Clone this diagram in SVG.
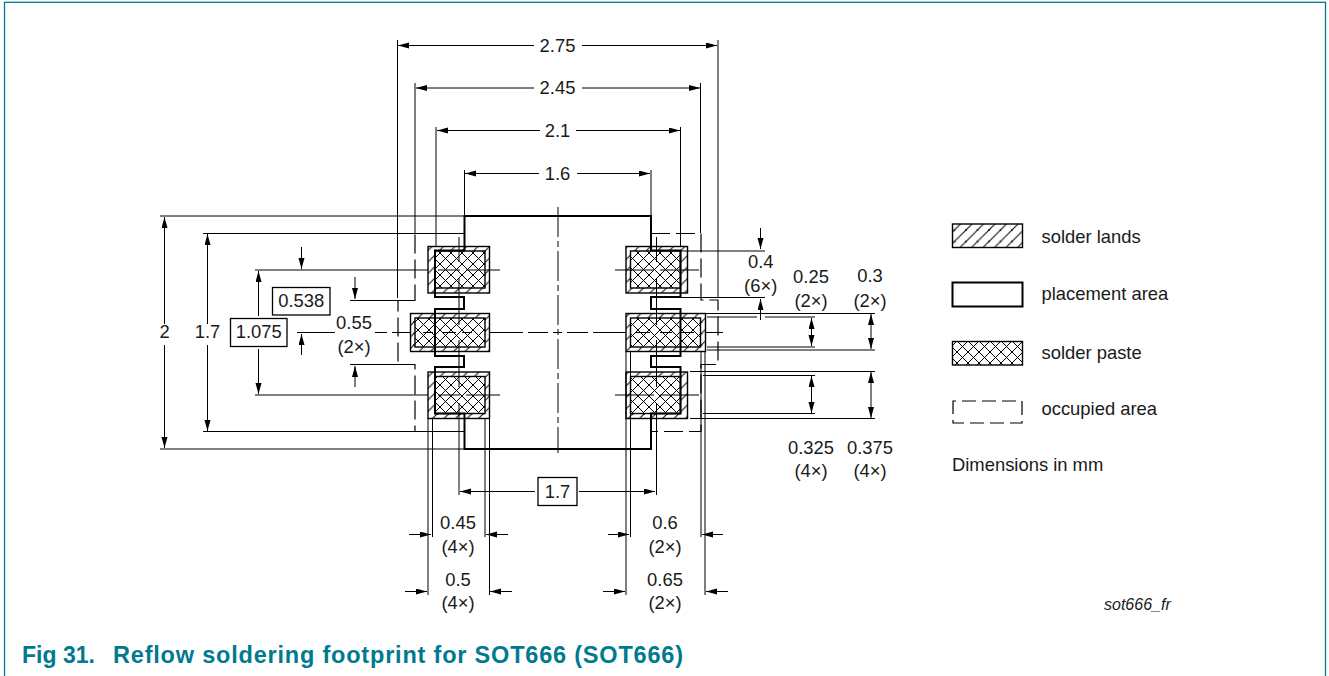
<svg xmlns="http://www.w3.org/2000/svg" width="1329" height="676" viewBox="0 0 1329 676">
<style>
text{font-family:"Liberation Sans",Arial,sans-serif;font-size:18.4px;fill:#1a1a1a}
.m{text-anchor:middle}
.l{stroke:#000;stroke-width:1;fill:none}
.e{stroke:#000;stroke-width:1;fill:none;marker-end:url(#ae)}
.box{fill:#fff;stroke:#000;stroke-width:1.3}
.land{fill:url(#h);stroke:#000;stroke-width:1.4}
.paste{fill:url(#x);stroke:#000;stroke-width:1.4}
.place{fill:none;stroke:#000;stroke-width:2}
.occ{fill:none;stroke:#000;stroke-width:1.2;stroke-dasharray:19 6}
.c{stroke:#000;stroke-width:1;stroke-dasharray:30 4 6 4;fill:none}
</style>
<defs>
<marker id="ae" markerUnits="userSpaceOnUse" markerWidth="14" markerHeight="8" refX="11" refY="3" orient="auto"><path d="M0 0L11 3L0 6Z" fill="#000"/></marker>
<pattern id="h" patternUnits="userSpaceOnUse" width="11.5" height="11.5"><rect width="11.5" height="11.5" fill="#fff"/><path d="M-1 12.500L12.500 -1M-1 1.500L1.500 -1M10 12.500L12.500 10" stroke="#000" stroke-width="1" fill="none"/></pattern>
<pattern id="x" patternUnits="userSpaceOnUse" width="11" height="11"><rect width="11" height="11" fill="#fff"/><path d="M0 0L11 11M11 0L0 11" stroke="#000" stroke-width="1" fill="none"/></pattern>
</defs>
<rect id="frame" x="4.500" y="2.300" width="1321" height="690" fill="none" stroke="#007a8f" stroke-width="1.300"/>
<g id="lands">
<rect class="land" x="428" y="246.500" width="61.500" height="46.500"/>
<rect class="land" x="410.500" y="313.500" width="79" height="38"/>
<rect class="land" x="428" y="372" width="61.500" height="46.500"/>
<rect class="land" x="626" y="246.500" width="61.500" height="46.500"/>
<rect class="land" x="626" y="313.500" width="79.500" height="38"/>
<rect class="land" x="626" y="372" width="61.500" height="46.500"/>
</g>
<g id="pastes">
<rect class="paste" x="435" y="251" width="50" height="37"/>
<rect class="paste" x="415" y="318" width="70" height="29"/>
<rect class="paste" x="435" y="376.500" width="50" height="37"/>
<rect class="paste" x="630.500" y="251" width="50" height="37"/>
<rect class="paste" x="630.500" y="318" width="70" height="29"/>
<rect class="paste" x="630.500" y="376.500" width="50" height="37"/>
</g>
<g id="connectors">
<path class="l" d="M397.500 40V298M415 83V233M436 127V246M464.500 170V216M718 40V298M700.500 83V233M680.500 127V246M651 170V216"/>
<path class="e" d="M534 45.500H398"/><path class="e" d="M582 45.500H717"/>
<path class="e" d="M534 88H416"/><path class="e" d="M582 88H700"/>
<path class="e" d="M540 130.500H437"/><path class="e" d="M576 130.500H680"/>
<path class="e" d="M539 173.500H465"/><path class="e" d="M577 173.500H650"/>
<path class="l" d="M160 216H464M203 233.500H464M255 270H428M438 270H460M466 270H500M350 300.500H414M350 364.500H414M255 395H428M438 395H460M466 395H500M203 431.500H464M160 449H464"/>
<path class="l" d="M297 332.500H335M375 332.500H387M392 332.500H410M489 332.500H523M528 332.500H548M553 332.500H562M567 332.500H588M593 332.500H626M705 332.500H723M615 270H654M660 270H699M615 395H654M660 395H699M423 332.500H433M442 332.500H456M462 332.500H472M636 332.500H650M660 332.500H672M680 332.500H694"/>
<path class="c" d="M558 207V453"/>
<path class="l" d="M459 237V262M459 278V325M459 340V387M459 403V495M656.500 237V262M656.500 278V325M656.500 340V387M656.500 403V495"/>
<path class="e" d="M164.500 324V217"/><path class="e" d="M164.500 345V448"/>
<path class="e" d="M207.500 324V234"/><path class="e" d="M207.500 345V431"/>
<path class="e" d="M258.500 316V271"/><path class="e" d="M258.500 349V394"/>
<path class="e" d="M301.500 247V269"/><path class="e" d="M301.500 355V334"/>
<path class="e" d="M355 277V299"/><path class="e" d="M355 387V366"/>
<path class="l" d="M681 251H765M680 297.500H765M705 313.500H875M707 317H757M765 317H815M707 347H815M707 350H875M690 371.500H875M703 375.500H815M703 413.500H815M690 418.500H875"/>
<path class="e" d="M760.500 228V249"/><path class="e" d="M760.500 320V299"/>
<path class="e" d="M811.500 332V318"/><path class="e" d="M811.500 332V346"/>
<path class="e" d="M871 332V314"/><path class="e" d="M871 332V349"/>
<path class="e" d="M811.500 395V376"/><path class="e" d="M811.500 395V413"/>
<path class="e" d="M871 395V372"/><path class="e" d="M871 395V418"/>
<path class="l" d="M428 418V595M432.500 418V537M485 418V537M489.500 418V595M626 352V595M630.500 352V537M701 352V537M705 352V595"/>
<path class="e" d="M409 534.500H431"/><path class="e" d="M508 534.500H486"/>
<path class="e" d="M405 591.500H427"/><path class="e" d="M512 591.500H490"/>
<path class="e" d="M608 534.500H629"/><path class="e" d="M723 534.500H702"/>
<path class="e" d="M603 591.500H625"/><path class="e" d="M728 591.500H706"/>
<path class="e" d="M535 491.500H460"/><path class="e" d="M579 491.500H655"/>
</g>
<g id="placement"><path class="place" d="M464.500 216H651V250.500H680.500V297H651V309H680.500V356H651V367H680.500V413.500H651V449H464.500V413.500H435V367H464V356H435V309H464V297H435V250.500H464.500Z"/></g>
<g id="occupied"><path class="occ" d="M464 233.500H415V300.500H398V364.500H415V431.500H464M651 233.500H701V300H718V364.500H701V431.500H651"/></g>
<g id="labels">
<text class="m" x="557.500" y="52">2.75</text><text class="m" x="557.500" y="94">2.45</text><text class="m" x="557.500" y="137">2.1</text><text class="m" x="557.500" y="180">1.6</text>
<text class="m" x="164.500" y="338">2</text><text class="m" x="207.500" y="338">1.7</text>
<rect class="box" x="230.500" y="318.500" width="56.500" height="28"/><text class="m" x="258.700" y="338">1.075</text>
<rect class="box" x="272.500" y="287.500" width="57.500" height="27.500"/><text class="m" x="301.200" y="307">0.538</text>
<text class="m" x="354" y="329">0.55</text><text class="m" x="354" y="353">(2×)</text>
<text class="m" x="760.700" y="268">0.4</text><text class="m" x="760.700" y="292">(6×)</text>
<text class="m" x="811" y="283">0.25</text><text class="m" x="811" y="307">(2×)</text>
<text class="m" x="870" y="282">0.3</text><text class="m" x="870" y="307">(2×)</text>
<text class="m" x="811" y="454">0.325</text><text class="m" x="811" y="477">(4×)</text>
<text class="m" x="870" y="454">0.375</text><text class="m" x="870" y="477">(4×)</text>
<rect class="box" x="538" y="477.500" width="39" height="28"/><text class="m" x="557.500" y="498">1.7</text>
<text class="m" x="458" y="529">0.45</text><text class="m" x="458" y="553">(4×)</text>
<text class="m" x="458" y="586">0.5</text><text class="m" x="458" y="609">(4×)</text>
<text class="m" x="665" y="529">0.6</text><text class="m" x="665" y="553">(2×)</text>
<text class="m" x="665" y="586">0.65</text><text class="m" x="665" y="609">(2×)</text>
</g>
<g id="legend">
<rect class="land" x="952.500" y="224" width="70" height="23.500"/>
<rect x="952.500" y="282.500" width="70" height="24" fill="#fff" stroke="#000" stroke-width="2"/>
<rect class="paste" x="952.500" y="341.500" width="70" height="23.500"/>
<path class="occ" style="stroke-dasharray:14 6" d="M953 412V401H1022V423H953V412"/>
<text x="1041.500" y="243">solder lands</text><text x="1041.500" y="300">placement area</text><text x="1041.500" y="359">solder paste</text><text x="1041.500" y="415">occupied area</text>
<text x="952" y="471">Dimensions in mm</text>
<text x="1104" y="610" style="font-style:italic;font-size:16px">sot666_fr</text>
</g>
<g id="caption" style="font-weight:bold">
<text x="22" y="663" style="font-weight:bold;font-size:23px;fill:#007a8f">Fig 31.</text>
<text x="113" y="663" style="font-weight:bold;font-size:23.500px;fill:#007a8f" textLength="570" lengthAdjust="spacing">Reflow soldering footprint for SOT666 (SOT666)</text>
</g>
</svg>
